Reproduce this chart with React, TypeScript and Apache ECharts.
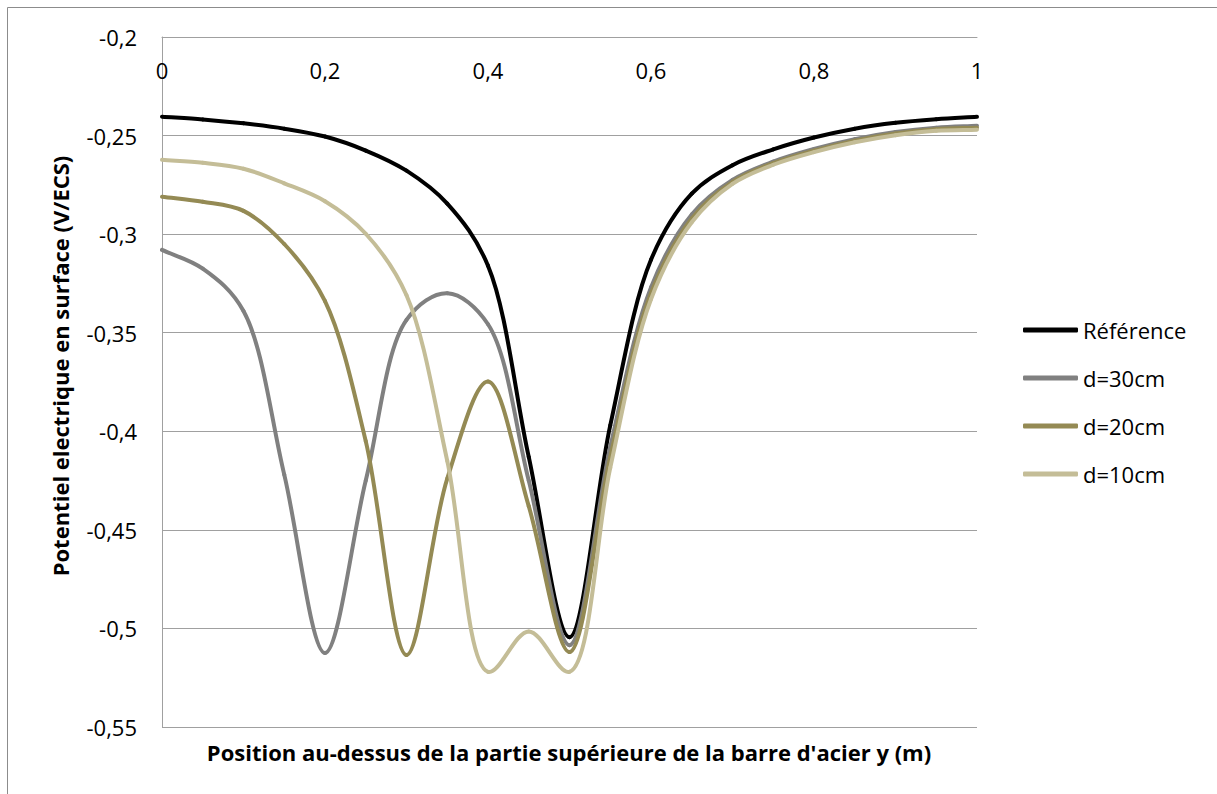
import React, { useEffect, useRef } from "react";
import * as echarts from "echarts";

const xs = [0, 0.05, 0.1, 0.15, 0.2, 0.25, 0.3, 0.35, 0.4, 0.45, 0.5, 0.55, 0.6, 0.65, 0.7, 0.75, 0.8, 0.85, 0.9, 0.95, 1];

const reference = [-0.2404, -0.2418, -0.2438, -0.2465, -0.2505, -0.2576, -0.2678, -0.2845, -0.316, -0.413, -0.5045, -0.397, -0.313, -0.2795, -0.265, -0.257, -0.251, -0.2465, -0.2435, -0.2417, -0.2405];
const d30 = [-0.308, -0.3175, -0.339, -0.422, -0.5125, -0.425, -0.3435, -0.33, -0.3457, -0.425, -0.5085, -0.408, -0.327, -0.29, -0.2725, -0.2632, -0.2568, -0.2518, -0.2482, -0.246, -0.245];
const d20 = [-0.281, -0.2836, -0.2882, -0.305, -0.334, -0.405, -0.5135, -0.424, -0.3748, -0.438, -0.512, -0.413, -0.33, -0.292, -0.2735, -0.264, -0.2576, -0.2526, -0.249, -0.2468, -0.246];
const d10 = [-0.2623, -0.2638, -0.2668, -0.2742, -0.2833, -0.2998, -0.331, -0.415, -0.522, -0.5015, -0.522, -0.4185, -0.333, -0.294, -0.2745, -0.2648, -0.2584, -0.2534, -0.2498, -0.2476, -0.247];

const seriesNames = ["Référence", "d=30cm", "d=20cm", "d=10cm"];
const seriesColors = ["#000000", "#808080", "#948A54", "#C4BD97"];
const seriesValues = [reference, d30, d20, d10];

const xTitle = "Position au-dessus de la partie supérieure de la barre d'acier y (m)";
const yTitle = "Potentiel electrique en surface (V/ECS)";

const FONT = "Open Sans";
const ALPHA = 0.5;

export default function App() {
  const ref = useRef<HTMLDivElement>(null);
  useEffect(() => {
    if (!ref.current) return;
    const chart = echarts.init(ref.current, null, { renderer: "svg" });
    const fmt = (v: number) => String(Math.round(v * 100) / 100).replace(".", ",");
    const n = xs.length;
    const dist = (a: number[], b: number[]) => Math.hypot(a[0] - b[0], a[1] - b[1]);
    chart.setOption({
      animation: false,
      backgroundColor: "#ffffff",
      grid: { left: 162, right: 240, top: 37, bottom: 67, containLabel: false },
      xAxis: [
        {
          type: "value",
          min: 0,
          max: 1,
          interval: 0.2,
          position: "top",
          axisLine: { show: true, lineStyle: { color: "#A0A0A0", width: 1 } },
          axisTick: { show: false },
          splitLine: { show: false },
          axisLabel: {
            inside: true,
            margin: 22,
            formatter: fmt,
            color: "#000",
            fontFamily: FONT,
            fontSize: 22,
          },
        },
      ],
      yAxis: {
        type: "value",
        min: -0.55,
        max: -0.2,
        interval: 0.05,
        axisLine: { show: true, lineStyle: { color: "#A0A0A0", width: 1 } },
        axisTick: { show: false },
        splitLine: { show: true, lineStyle: { color: "#A0A0A0", width: 1 } },
        axisLabel: {
          margin: 25,
          formatter: fmt,
          color: "#000",
          fontFamily: FONT,
          fontSize: 22,
        },
      },
      legend: {
        orient: "vertical",
        left: 1023,
        top: 319,
        padding: 0,
        itemWidth: 55,
        itemHeight: 5,
        itemGap: 26,
        data: seriesNames.map((nm, i) => ({ name: nm, icon: "roundRect", itemStyle: { color: seriesColors[i] } })),
        textStyle: { color: "#000", fontFamily: FONT, fontSize: 22, lineHeight: 22 },
      },
      graphic: [
        { type: "line", shape: { x1: 7.5, y1: 7.5, x2: 1217, y2: 7.5 }, style: { stroke: "#8C8C8C", lineWidth: 1 } },
        { type: "line", shape: { x1: 7.5, y1: 7.5, x2: 7.5, y2: 794 }, style: { stroke: "#8C8C8C", lineWidth: 1 } },
        {
          type: "text",
          x: 569,
          y: 752,
          style: { text: xTitle, fill: "#000", font: `bold 22px "${FONT}"`, textAlign: "center", textVerticalAlign: "middle" },
        },
        {
          type: "text",
          x: 60,
          y: 366,
          rotation: Math.PI / 2,
          style: { text: yTitle, fill: "#000", font: `bold 22px "${FONT}"`, textAlign: "center", textVerticalAlign: "middle" },
        },
      ],
      series: seriesValues.map((vals, s) => ({
        name: seriesNames[s],
        type: "custom",
        coordinateSystem: "cartesian2d",
        itemStyle: { color: seriesColors[s] },
        encode: { x: 0, y: 1 },
        z: 2 + s,
        data: xs.map((x, j) => [x, vals[j]]),
        renderItem: (params: any, api: any) => {
          const i = params.dataIndex;
          if (i >= n - 1) return null;
          const P = (k: number) => api.coord([xs[k], vals[k]]);
          const p1 = P(i), p2 = P(i + 1);
          const p0 = i > 0 ? P(i - 1) : [2 * p1[0] - p2[0], 2 * p1[1] - p2[1]];
          const p3 = i + 2 < n ? P(i + 2) : [2 * p2[0] - p1[0], 2 * p2[1] - p1[1]];
          const l01a = Math.pow(dist(p0, p1), ALPHA), l01_2a = l01a * l01a;
          const l12a = Math.pow(dist(p1, p2), ALPHA), l12_2a = l12a * l12a;
          const l23a = Math.pow(dist(p2, p3), ALPHA), l23_2a = l23a * l23a;
          const a = 2 * l01_2a + 3 * l01a * l12a + l12_2a;
          const na = 3 * l01a * (l01a + l12a);
          const b = 2 * l23_2a + 3 * l23a * l12a + l12_2a;
          const mb = 3 * l23a * (l23a + l12a);
          const cpx1 = (p1[0] * a - p0[0] * l12_2a + p2[0] * l01_2a) / na;
          const cpy1 = (p1[1] * a - p0[1] * l12_2a + p2[1] * l01_2a) / na;
          const cpx2 = (p2[0] * b + p1[0] * l23_2a - p3[0] * l12_2a) / mb;
          const cpy2 = (p2[1] * b + p1[1] * l23_2a - p3[1] * l12_2a) / mb;
          return {
            type: "bezierCurve",
            shape: { x1: p1[0], y1: p1[1], x2: p2[0], y2: p2[1], cpx1, cpy1, cpx2, cpy2 },
            style: { stroke: seriesColors[s], lineWidth: 4, fill: null, lineCap: "round" },
          };
        },
      })),
    });
    return () => chart.dispose();
  }, []);
  return <div ref={ref} style={{ position: "fixed", left: 0, top: 0, width: 1217, height: 794 }} />;
}
